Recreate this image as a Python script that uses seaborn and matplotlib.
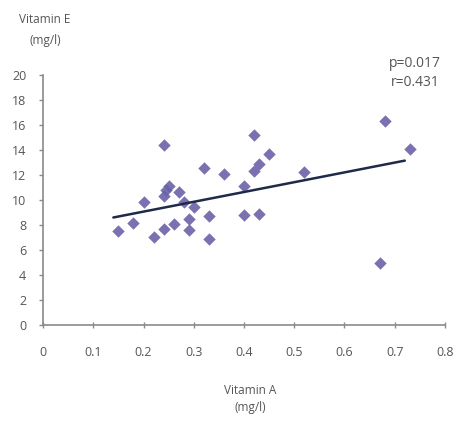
import matplotlib
matplotlib.use("Agg")
import matplotlib.pyplot as plt
import seaborn as sns
import pandas as pd

vitamin_a = [0.15, 0.18, 0.20, 0.22, 0.24, 0.24, 0.24, 0.245, 0.25, 0.26,
             0.27, 0.28, 0.29, 0.29, 0.30, 0.32, 0.33, 0.33, 0.36, 0.40,
             0.40, 0.42, 0.42, 0.43, 0.43, 0.45, 0.52, 0.67, 0.68, 0.73]
vitamin_e = [7.55, 8.15, 9.8, 7.0, 14.4, 7.65, 10.3, 10.8, 11.15, 8.05,
             10.6, 9.85, 8.5, 7.6, 9.4, 12.55, 8.7, 6.9, 12.1, 11.1,
             8.8, 15.2, 12.3, 12.9, 8.85, 13.7, 12.2, 5.0, 16.3, 14.1]
trend_x = [0.14, 0.72]
trend_y = [8.6, 13.15]
x_ticks = [0, 0.1, 0.2, 0.3, 0.4, 0.5, 0.6, 0.7, 0.8]
y_ticks = [0, 2, 4, 6, 8, 10, 12, 14, 16, 18, 20]

sns.set_style("white")
plt.rcParams['font.family'] = ['Open Sans', 'DejaVu Sans']

df = pd.DataFrame({"a": vitamin_a, "e": vitamin_e})
tdf = pd.DataFrame({"x": trend_x, "y": trend_y})

fig = plt.figure(figsize=(4.6, 4.23), dpi=100)
ax = fig.add_axes([43/460, 1 - 325/423, (445 - 43)/460, (325 - 75)/423])

sns.scatterplot(data=df, x="a", y="e", marker="D", s=40, color="#6a62a8",
                edgecolor="#6a62a8", linewidth=0, alpha=0.9, ax=ax, zorder=3)
sns.lineplot(data=tdf, x="x", y="y", color="#1f2a48", linewidth=1.8, ax=ax, zorder=4)

ax.set_xlim(0, 0.8)
ax.set_ylim(0, 20)
ax.set_xticks(x_ticks)
ax.set_xticklabels([f"{t:g}" for t in x_ticks])
ax.set_yticks(y_ticks)
ax.set_yticklabels([str(t) for t in y_ticks])
ax.set_xlabel("")
ax.set_ylabel("")

for s in ["top", "right"]:
    ax.spines[s].set_visible(False)
for s in ["left", "bottom"]:
    ax.spines[s].set_color("#8a8a8a")
    ax.spines[s].set_linewidth(1.2)

ax.tick_params(axis="y", direction="out", length=3, width=1, color="#8a8a8a",
               labelsize=9, labelcolor="#555555", pad=9, left=True)
ax.tick_params(axis="x", direction="inout", length=4, width=1, color="#8a8a8a",
               labelsize=9, labelcolor="#555555", pad=13, bottom=True)

fig.text(45/460, 1 - 30/423, "Vitamin E\n(mg/l)", ha="center", va="center",
         fontsize=8.5, color="#555555", linespacing=1.75)
fig.text(415/460, 1 - 73/423, "p=0.017\nr=0.431", ha="center", va="center",
         fontsize=10, color="#555555", linespacing=1.45)
fig.text(250/460, 1 - 399/423, "Vitamin A\n(mg/l)", ha="center", va="center",
         fontsize=8.5, color="#555555", linespacing=1.45)

fig.savefig("out.png", dpi=100)
